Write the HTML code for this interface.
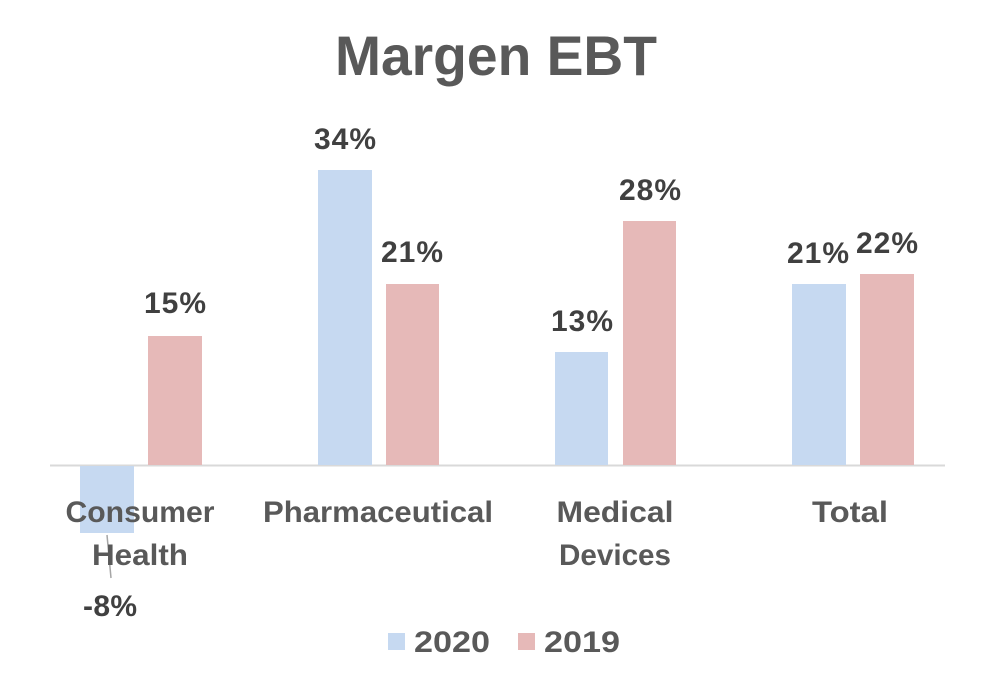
<!DOCTYPE html>
<html><head><style>html,body{margin:0;padding:0;background:#fff}</style></head>
<body>
<svg width="995" height="685" xmlns="http://www.w3.org/2000/svg" font-family="Liberation Sans, sans-serif" font-weight="bold" fill="#595959">
<rect width="995" height="685" fill="#fff"/>
<text x="496" y="75" font-size="56" text-anchor="middle" textLength="322" lengthAdjust="spacingAndGlyphs">Margen EBT</text>
<line x1="50" y1="465.5" x2="945" y2="465.5" stroke="#d9d9d9" stroke-width="2"/>
<g fill="#c6d9f1">
<rect x="80" y="466" width="54" height="67"/>
<rect x="318" y="170" width="54" height="295"/>
<rect x="555" y="352" width="53" height="113"/>
<rect x="792" y="284" width="54" height="181"/>
</g>
<g fill="#e6b9b8">
<rect x="148" y="336" width="54" height="129"/>
<rect x="386" y="284" width="53" height="181"/>
<rect x="623" y="221" width="53" height="244"/>
<rect x="860" y="274" width="54" height="191"/>
</g>
<line x1="107" y1="535" x2="111" y2="578" stroke="#a6a6a6" stroke-width="1.5"/>
<g font-size="30" text-anchor="middle" fill="#404040" lengthAdjust="spacingAndGlyphs">
<text x="110" y="616" textLength="54">-8%</text>
<text x="175" y="313" textLength="62">15%</text>
<text x="345" y="149" textLength="62">34%</text>
<text x="412" y="262" textLength="62">21%</text>
<text x="582" y="331" textLength="62">13%</text>
<text x="650" y="200" textLength="62">28%</text>
<text x="818" y="263" textLength="62">21%</text>
<text x="887" y="253" textLength="62">22%</text>
</g>
<g font-size="30" text-anchor="middle">
<text x="140" y="522" textLength="149" lengthAdjust="spacingAndGlyphs">Consumer</text>
<text x="140" y="565" textLength="96" lengthAdjust="spacingAndGlyphs">Health</text>
<text x="378" y="522" textLength="230" lengthAdjust="spacingAndGlyphs">Pharmaceutical</text>
<text x="615" y="522" textLength="117" lengthAdjust="spacingAndGlyphs">Medical</text>
<text x="615" y="565" textLength="112" lengthAdjust="spacingAndGlyphs">Devices</text>
<text x="850" y="522" textLength="76" lengthAdjust="spacingAndGlyphs">Total</text>
</g>
<rect x="388" y="633" width="17" height="17" fill="#c6d9f1"/>
<text x="414" y="652" font-size="30" textLength="76" lengthAdjust="spacingAndGlyphs">2020</text>
<rect x="518" y="633" width="17" height="17" fill="#e6b9b8"/>
<text x="544" y="652" font-size="30" textLength="76" lengthAdjust="spacingAndGlyphs">2019</text>
</svg>
</body></html>
